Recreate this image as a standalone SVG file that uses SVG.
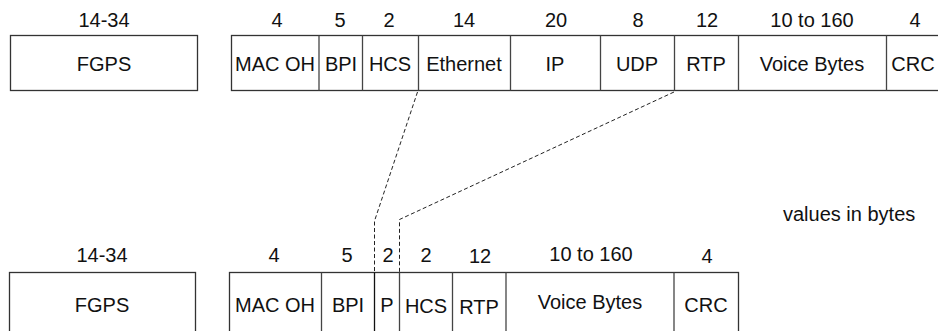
<svg xmlns="http://www.w3.org/2000/svg" width="938" height="331" viewBox="0 0 938 331">
<style>
text{font-family:"Liberation Sans",Arial,sans-serif;font-size:20px;fill:#111;text-anchor:middle}
.box{fill:#fff;stroke:#333;stroke-width:1.3}
.div{stroke:#444;stroke-width:1.3}
.dash{fill:none;stroke:#222;stroke-width:1;stroke-dasharray:4 2.5}
</style>
<rect width="938" height="331" fill="#fff"/>
<g id="top-fgps">
<text x="104" y="27">14-34</text>
<rect class="box" x="10.5" y="35.5" width="187" height="55"/>
<text x="104" y="71">FGPS</text>
</g>
<g id="top-frame">
<rect class="box" x="231.5" y="35.5" width="730" height="55"/>
<line class="div" x1="319" y1="35.5" x2="319" y2="90.5"/>
<line class="div" x1="362.5" y1="35.5" x2="362.5" y2="90.5"/>
<line class="div" x1="418.5" y1="35.5" x2="418.5" y2="90.5"/>
<line class="div" x1="510.5" y1="35.5" x2="510.5" y2="90.5"/>
<line class="div" x1="600.5" y1="35.5" x2="600.5" y2="90.5"/>
<line class="div" x1="674.5" y1="35.5" x2="674.5" y2="90.5"/>
<line class="div" x1="738.5" y1="35.5" x2="738.5" y2="90.5"/>
<line class="div" x1="886.5" y1="35.5" x2="886.5" y2="90.5"/>
<text x="277" y="27">4</text>
<text x="340" y="27">5</text>
<text x="389" y="27">2</text>
<text x="464" y="27">14</text>
<text x="556" y="27">20</text>
<text x="638" y="27">8</text>
<text x="707" y="27">12</text>
<text x="812" y="27">10 to 160</text>
<text x="915" y="27">4</text>
<text x="275" y="71">MAC OH</text>
<text x="341" y="71">BPI</text>
<text x="390" y="71">HCS</text>
<text x="464" y="71">Ethernet</text>
<text x="555" y="71">IP</text>
<text x="637" y="71">UDP</text>
<text x="706" y="71">RTP</text>
<text x="812" y="71">Voice Bytes</text>
<text x="913" y="71">CRC</text>
</g>
<g id="connectors">
<path class="dash" d="M417.5,92 L374.5,221 L374.5,272.5"/>
<path class="dash" d="M674,92 L399.5,219.5 L399.5,272.5"/>
</g>
<text x="783" y="221" style="text-anchor:start">values in bytes</text>
<g id="bottom-fgps">
<text x="102" y="262">14-34</text>
<rect class="box" x="9.5" y="272.5" width="186" height="70"/>
<text x="102" y="312">FGPS</text>
</g>
<g id="bottom-frame">
<rect class="box" x="229.5" y="272.5" width="509" height="70"/>
<line class="div" x1="321.5" y1="272.5" x2="321.5" y2="331"/>
<line class="div" x1="374.5" y1="272.5" x2="374.5" y2="331" style="stroke:#111"/>
<line class="div" x1="399.5" y1="272.5" x2="399.5" y2="331"/>
<line class="div" x1="452.5" y1="272.5" x2="452.5" y2="331"/>
<line class="div" x1="506" y1="272.5" x2="506" y2="331"/>
<line class="div" x1="674" y1="272.5" x2="674" y2="331"/>
<text x="274" y="262">4</text>
<text x="347" y="262">5</text>
<text x="388" y="262">2</text>
<text x="426" y="262">2</text>
<text x="480" y="263">12</text>
<text x="591" y="261">10 to 160</text>
<text x="707" y="263">4</text>
<text x="275" y="312">MAC OH</text>
<text x="348" y="312">BPI</text>
<text x="387" y="312">P</text>
<text x="426" y="313">HCS</text>
<text x="479" y="314">RTP</text>
<text x="590" y="309">Voice Bytes</text>
<text x="706" y="312">CRC</text>
</g>
</svg>
